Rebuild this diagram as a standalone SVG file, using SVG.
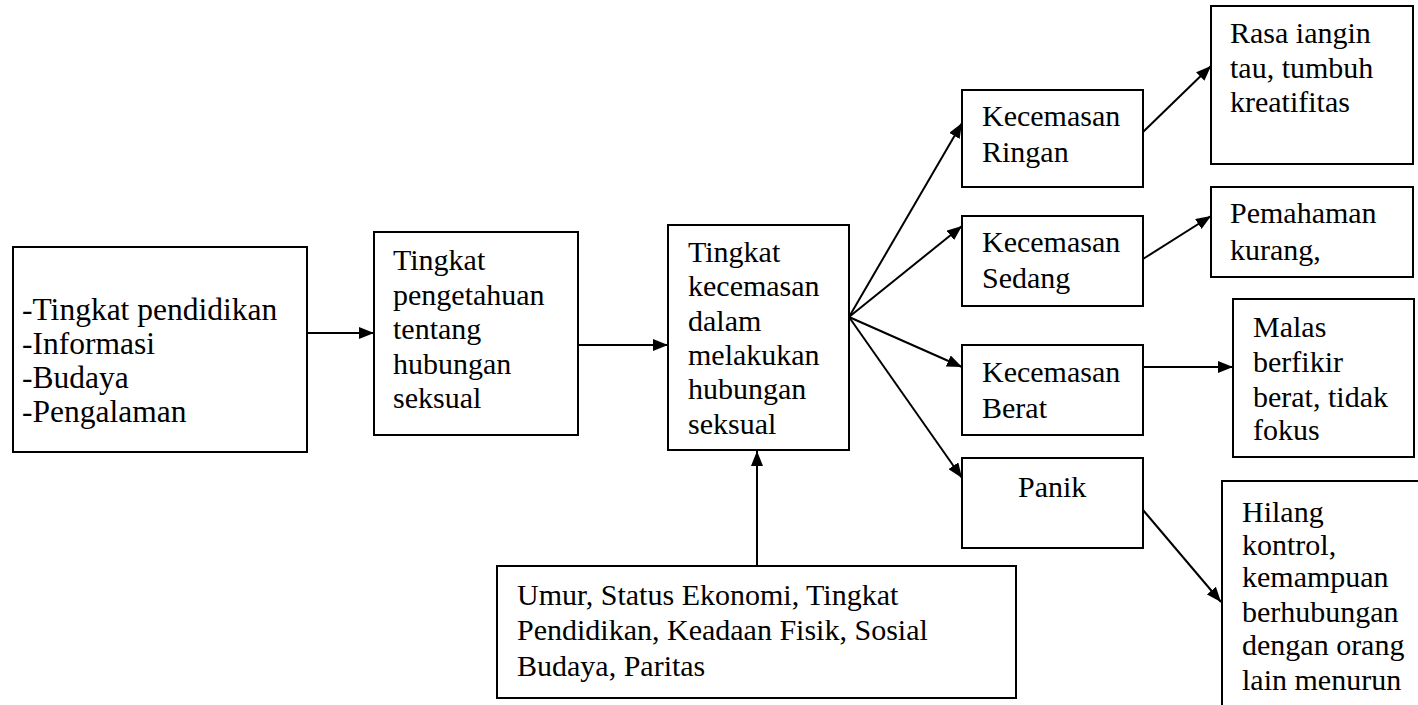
<svg xmlns="http://www.w3.org/2000/svg" width="1418" height="705" viewBox="0 0 1418 705">
<defs>
<marker id="arr" markerUnits="userSpaceOnUse" markerWidth="15" markerHeight="12" refX="15" refY="6" orient="auto">
<path d="M0,0 L15,6 L0,12 z" fill="#000"/>
</marker>
<style>
.box{fill:#fff;stroke:#000;stroke-width:2}
.t{font-family:'Liberation Serif','Times New Roman',serif;font-size:30px;fill:#000}
.c{stroke:#000;stroke-width:2;fill:none;marker-end:url(#arr)}
</style>
</defs>
<rect width="1418" height="705" fill="#fff"/>
<g id="connectors">
<line class="c" x1="307" y1="333" x2="374" y2="333"/>
<line class="c" x1="578" y1="345" x2="668" y2="345"/>
<line class="c" x1="757" y1="566" x2="757" y2="451"/>
<line class="c" x1="849" y1="317" x2="962" y2="123"/>
<line class="c" x1="849" y1="317" x2="962" y2="226"/>
<line class="c" x1="849" y1="317" x2="962" y2="367"/>
<line class="c" x1="849" y1="317" x2="962" y2="478"/>
<line class="c" x1="1143" y1="132" x2="1211" y2="66"/>
<line class="c" x1="1143" y1="259" x2="1211" y2="216"/>
<line class="c" x1="1143" y1="367" x2="1233" y2="367"/>
<line class="c" x1="1143" y1="510" x2="1221" y2="602"/>
</g>
<g id="n-faktor">
<rect class="box" x="13" y="247" width="294" height="205"/>
<text class="t" style="font-size:31.5px"><tspan x="22" y="320">-Tingkat pendidikan</tspan><tspan x="22" y="354">-Informasi</tspan><tspan x="22" y="388">-Budaya</tspan><tspan x="22" y="422">-Pengalaman</tspan></text>
</g>
<g id="n-pengetahuan">
<rect class="box" x="374" y="232" width="204" height="203"/>
<text class="t"><tspan x="393" y="270">Tingkat</tspan><tspan x="393" y="304.5">pengetahuan</tspan><tspan x="393" y="339">tentang</tspan><tspan x="393" y="373.5">hubungan</tspan><tspan x="393" y="408">seksual</tspan></text>
</g>
<g id="n-kecemasan">
<rect class="box" x="668" y="225" width="181" height="225"/>
<text class="t"><tspan x="688" y="262">Tingkat</tspan><tspan x="688" y="296.3">kecemasan</tspan><tspan x="688" y="330.6">dalam</tspan><tspan x="688" y="364.9">melakukan</tspan><tspan x="688" y="399.2">hubungan</tspan><tspan x="688" y="433.5">seksual</tspan></text>
</g>
<g id="n-faktor2">
<rect class="box" x="497" y="566" width="519" height="132"/>
<text class="t"><tspan x="517" y="605">Umur, Status Ekonomi, Tingkat</tspan><tspan x="517" y="640">Pendidikan, Keadaan Fisik, Sosial</tspan><tspan x="517" y="676">Budaya, Paritas</tspan></text>
</g>
<g id="n-ringan">
<rect class="box" x="962" y="90" width="181" height="97"/>
<text class="t"><tspan x="982" y="126">Kecemasan</tspan><tspan x="982" y="162">Ringan</tspan></text>
</g>
<g id="n-sedang">
<rect class="box" x="962" y="216" width="181" height="90"/>
<text class="t"><tspan x="982" y="252">Kecemasan</tspan><tspan x="982" y="288">Sedang</tspan></text>
</g>
<g id="n-berat">
<rect class="box" x="962" y="345" width="181" height="90"/>
<text class="t"><tspan x="982" y="382">Kecemasan</tspan><tspan x="982" y="418">Berat</tspan></text>
</g>
<g id="n-panik">
<rect class="box" x="962" y="458" width="181" height="90"/>
<text class="t" x="1018" y="497">Panik</text>
</g>
<g id="n-rasa">
<rect class="box" x="1211" y="6" width="202" height="158"/>
<text class="t"><tspan x="1230" y="43">Rasa iangin</tspan><tspan x="1230" y="78">tau, tumbuh</tspan><tspan x="1230" y="112">kreatifitas</tspan></text>
</g>
<g id="n-pemahaman">
<rect class="box" x="1211" y="187" width="202" height="90"/>
<text class="t"><tspan x="1230" y="223">Pemahaman</tspan><tspan x="1230" y="260">kurang,</tspan></text>
</g>
<g id="n-malas">
<rect class="box" x="1233" y="299" width="181" height="158"/>
<text class="t"><tspan x="1253" y="337">Malas</tspan><tspan x="1253" y="372">berfikir</tspan><tspan x="1253" y="407">berat, tidak</tspan><tspan x="1253" y="440">fokus</tspan></text>
</g>
<g id="n-hilang">
<rect class="box" x="1222" y="481" width="220" height="260"/>
<text class="t"><tspan x="1242" y="522">Hilang</tspan><tspan x="1242" y="555">kontrol,</tspan><tspan x="1242" y="587">kemampuan</tspan><tspan x="1242" y="622">berhubungan</tspan><tspan x="1242" y="655">dengan orang</tspan><tspan x="1242" y="690">lain menurun</tspan></text>
</g>
</svg>
